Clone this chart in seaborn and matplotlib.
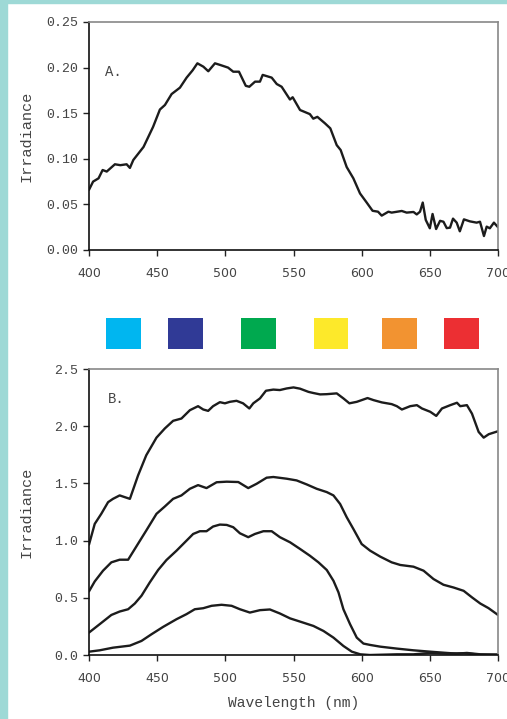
import matplotlib
matplotlib.use("Agg")
import matplotlib.pyplot as plt
import seaborn as sns
import pandas as pd
from matplotlib.patches import Rectangle

# ---------------- data ----------------
# Panel A
wl_a = [400, 403, 407, 410, 413, 419, 423, 427.6, 430, 432.5, 440, 443.5, 447, 452, 455.7,
        460.6, 466.7, 471.6, 476, 479.5, 483.9, 487.5, 492.4, 496, 502, 505.8, 510, 515,
        517.6, 521.8, 525.4, 527.4, 534, 537.7, 541.3, 547.4, 549.4, 554.8, 562, 564.5,
        567.5, 573, 577, 581.7, 584.6, 589, 593.9, 598.8, 603.7, 608, 612, 614.7, 619.6,
        622, 629.4, 633, 638, 640.4, 642.8, 644.8, 647, 650, 652, 654.6, 657.5, 660,
        662.4, 664.8, 667, 669.7, 672, 675, 679.4, 684.3, 686.8, 689.7, 691.7, 694, 697, 700]
irr_a = [0.066, 0.075, 0.0786, 0.0877, 0.086, 0.094, 0.093, 0.094, 0.090, 0.0987, 0.113,
         0.124, 0.135, 0.154, 0.159, 0.171, 0.178, 0.189, 0.197, 0.2047, 0.201, 0.196,
         0.2047, 0.203, 0.200, 0.1955, 0.1955, 0.180, 0.179, 0.1846, 0.1846, 0.192, 0.189,
         0.182, 0.179, 0.165, 0.1675, 0.1535, 0.149, 0.144, 0.146, 0.139, 0.1334, 0.115,
         0.1096, 0.091, 0.0786, 0.062, 0.052, 0.043, 0.042, 0.0377, 0.042, 0.041, 0.0428,
         0.041, 0.0417, 0.039, 0.042, 0.052, 0.033, 0.0238, 0.0395, 0.023, 0.032, 0.031,
         0.024, 0.0245, 0.0344, 0.030, 0.0205, 0.0336, 0.0314, 0.030, 0.031, 0.0153,
         0.0256, 0.0238, 0.030, 0.025]

# Panel B, four depths
wl_b1 = [400, 404.2, 409, 414, 417.6, 422.5, 426.2, 430, 436, 442, 449.5, 455.6, 461.7, 467.8,
         474, 480, 483.8, 487.4, 491, 496, 499.7, 503.3, 508.2, 513, 517.6, 520.5, 525.4,
         529.8, 535.2, 540, 545, 550, 554.8, 561, 564.6, 569.5, 574.4, 581.7, 586.6, 591,
         596.4, 600, 604.3, 608.7, 614.8, 622, 625.8, 629.5, 635.6, 640.5, 644.2, 650.3,
         654.7, 658.9, 665, 669.9, 672.3, 677.2, 680.9, 685.8, 689.5, 693.2, 700]
irr_b1 = [0.965, 1.146, 1.234, 1.336, 1.365, 1.395, 1.38, 1.365, 1.57, 1.746, 1.90, 1.98,
          2.047, 2.067, 2.14, 2.175, 2.146, 2.134, 2.175, 2.21, 2.20, 2.213, 2.222, 2.20,
          2.155, 2.20, 2.243, 2.31, 2.32, 2.316, 2.33, 2.339, 2.328, 2.30, 2.29, 2.278,
          2.28, 2.287, 2.243, 2.20, 2.213, 2.228, 2.246, 2.228, 2.208, 2.193, 2.175, 2.146,
          2.175, 2.184, 2.155, 2.126, 2.09, 2.155, 2.184, 2.205, 2.175, 2.184, 2.11, 1.95,
          1.90, 1.93, 1.956]

wl_b2 = [400, 404.2, 410.3, 416.4, 422.5, 428.7, 433.6, 442, 449.5, 455.6, 461.7, 467.8, 474,
         480, 486.2, 493.6, 501, 509.5, 516.8, 523, 530.3, 535.2, 545, 552.3, 559.7, 567,
         574.4, 579.3, 584.2, 589, 594, 600, 606.2, 613.6, 622, 628.3, 638, 645.4, 652.7,
         660, 667.4, 674.8, 681, 687, 693, 700]
irr_b2 = [0.556, 0.643, 0.737, 0.81, 0.833, 0.833, 0.927, 1.088, 1.234, 1.298, 1.365, 1.395,
          1.453, 1.485, 1.459, 1.51, 1.515, 1.512, 1.459, 1.497, 1.55, 1.556, 1.541, 1.526,
          1.491, 1.453, 1.424, 1.395, 1.32, 1.205, 1.10, 0.97, 0.912, 0.86, 0.81, 0.787,
          0.772, 0.737, 0.664, 0.614, 0.59, 0.561, 0.503, 0.45, 0.41, 0.35]

wl_b3 = [400, 407.8, 416.4, 422.5, 428.7, 433.6, 438.5, 444.6, 450.7, 456.8, 464.2, 470.3,
         476.4, 481.3, 486.2, 491, 496, 501, 505.8, 510.7, 516.8, 521.7, 527.9, 534, 540,
         547.5, 554.8, 562, 568.3, 574.4, 579.3, 583, 586.6, 591.5, 596.4, 601.3, 606.2,
         613.6, 625.8, 638, 650.3, 662.5, 669.9, 677.2, 687, 700]
irr_b3 = [0.196, 0.269, 0.35, 0.38, 0.40, 0.45, 0.518, 0.635, 0.743, 0.83, 0.912, 0.985,
          1.058, 1.082, 1.082, 1.123, 1.14, 1.137, 1.117, 1.064, 1.03, 1.058, 1.082, 1.082,
          1.03, 0.985, 0.927, 0.868, 0.81, 0.743, 0.649, 0.547, 0.40, 0.269, 0.152, 0.10,
          0.088, 0.073, 0.056, 0.041, 0.029, 0.018, 0.012, 0.018, 0.006, 0.003]

wl_b4 = [400, 407.8, 417.6, 430, 438.5, 445.8, 454.4, 464.2, 471.5, 477.6, 483.8, 489.9,
         497.2, 504.6, 510.7, 518, 525.4, 532.7, 540, 547.5, 554.8, 564.6, 572, 579.3,
         586.6, 592.8, 599, 606, 625.8, 638, 650.3, 662.5, 674.8, 687, 700]
irr_b4 = [0.029, 0.041, 0.064, 0.082, 0.123, 0.181, 0.246, 0.313, 0.357, 0.40, 0.409, 0.43,
          0.439, 0.43, 0.40, 0.371, 0.392, 0.398, 0.363, 0.32, 0.292, 0.254, 0.21, 0.152,
          0.079, 0.029, 0.006, 0.0, 0.006, 0.006, 0.018, 0.012, 0.015, 0.003, 0.003]

# colour band key (centre wavelength, colour)
band_centers = [425, 471, 524, 577.5, 627.5, 673.5]
band_colors = ["#00B6F0", "#303A96", "#00A94F", "#FDE92A", "#F29331", "#EC2F33"]

xticks = [400, 450, 500, 550, 600, 650, 700]
yticks_a = [0.00, 0.05, 0.10, 0.15, 0.20, 0.25]
yticks_b = [0.0, 0.5, 1.0, 1.5, 2.0, 2.5]

# ---------------- figure ----------------
sns.set_theme(style="white")
plt.rcParams["font.family"] = ["DejaVu Sans"]
mono = "Liberation Mono"
txt_col = "#444444"
line_col = "#1c1c1c"

fig = plt.figure(figsize=(5.07, 7.19), dpi=100)
fig.patch.set_facecolor("white")
teal = "#9ED9D6"
fig.patches.append(Rectangle((0, 0), 7 / 507, 1, transform=fig.transFigure,
                             color=teal, zorder=0))
fig.patches.append(Rectangle((0, 1 - 3 / 719), 1, 3 / 719, transform=fig.transFigure,
                             color=teal, zorder=0))

L, W = 89 / 507, (498 - 89) / 507
ax_a = fig.add_axes([L, 1 - 250 / 719, W, 228 / 719])
ax_b = fig.add_axes([L, 1 - 655 / 719, W, 286 / 719])
ax_k = fig.add_axes([L, 1 - 349 / 719, W, 31 / 719])


def style(ax, yticks, fmt):
    ax.set_xlim(400, 700)
    ax.set_ylim(yticks[0], yticks[-1])
    ax.set_xticks(xticks)
    ax.set_yticks(yticks)
    ax.set_yticklabels([fmt.format(v) for v in yticks], fontfamily=mono,
                       fontsize=9.5, color=txt_col)
    ax.set_xticklabels([str(v) for v in xticks], fontsize=9, color=txt_col)
    ax.tick_params(axis="both", direction="out", length=4, width=1, color="#222222",
                   left=True, bottom=True, pad=4)
    ax.tick_params(axis="x", pad=8)
    for s in ["left", "bottom"]:
        ax.spines[s].set_color("#111111")
        ax.spines[s].set_linewidth(1.2)
    for s in ["top", "right"]:
        ax.spines[s].set_color("#888888")
        ax.spines[s].set_linewidth(1.2)
    ax.set_ylabel("Irradiance", fontfamily=mono, fontsize=11, color=txt_col)
    ax.yaxis.set_label_coords(-55 / 409, 0.5)
    ax.grid(False)


sns.lineplot(x=wl_a, y=irr_a, ax=ax_a, color=line_col, linewidth=1.7)
style(ax_a, yticks_a, "{:.2f}")
ax_a.set_xlabel("")
ax_a.text(411.5, 0.195, "A.", fontfamily=mono, fontsize=10, color=txt_col, va="center")

for wl, irr in [(wl_b1, irr_b1), (wl_b2, irr_b2), (wl_b3, irr_b3), (wl_b4, irr_b4)]:
    sns.lineplot(x=wl, y=irr, ax=ax_b, color=line_col, linewidth=1.7)
style(ax_b, yticks_b, "{:.1f}")
ax_b.set_xlabel("Wavelength (nm)", fontfamily=mono, fontsize=10.5, color=txt_col,
                labelpad=8)
ax_b.text(414, 2.24, "B.", fontfamily=mono, fontsize=10, color=txt_col, va="center")

# colour key
ax_k.bar(band_centers, [1] * len(band_centers), width=25.6, color=band_colors,
         edgecolor="none")
ax_k.set_xlim(400, 700)
ax_k.set_ylim(0, 1)
ax_k.axis("off")

fig.savefig("out.png", dpi=100, facecolor="white")
